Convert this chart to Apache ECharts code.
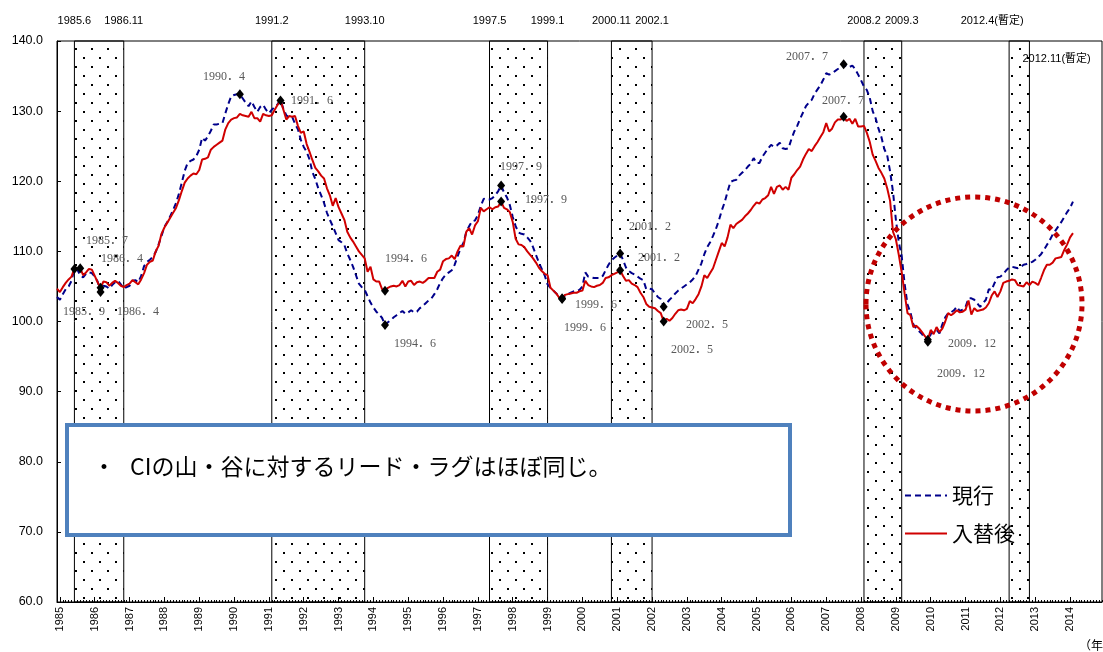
<!DOCTYPE html>
<html><head><meta charset="utf-8">
<script src="https://cdn.jsdelivr.net/npm/echarts@6/dist/echarts.min.js"></script>
<style>html,body{margin:0;padding:0;background:#fff}#c{width:1103px;height:652px}</style>
</head><body><div id="c"></div>
<script>
// ---- categories: monthly, 1984.12 .. 2014.12 ----
const months = [];
for (let i = 0; i < 361; i++) { const t = 11 + i; months.push((1984 + Math.floor(t / 12)) + '.' + (t % 12 + 1)); }

const seriesNames = ['現行', '入替後'];

// 現行 (monthly from 1984.12)
const genkou = [
103.5,103.1,103.9,104.6,105.0,105.8,107.5,107.4,106.6,106.3,106.8,
107.0,106.9,106.4,105.7,104.2,105.1,105.0,104.7,105.2,105.6,
105.8,105.3,104.7,104.9,105.1,105.8,105.9,105.6,106.5,107.9,
108.5,108.8,109.2,109.9,111.0,112.2,113.5,114.2,115.0,115.9,
116.9,118.2,119.8,121.5,122.6,122.9,123.1,123.6,124.5,126.2,
125.8,126.4,127.2,128.1,128.1,128.2,128.3,129.7,131.0,132.1,
132.3,132.4,132.4,131.8,131.2,130.7,131.4,130.6,129.9,130.6,
130.9,130.2,129.7,130.2,130.6,131.0,131.6,130.3,129.4,129.1,
129.2,128.2,127.4,125.9,124.9,124.2,123.1,121.3,120.3,119.0,
118.0,116.9,115.5,114.5,113.6,112.6,111.6,111.3,110.9,109.7,
108.8,107.8,106.6,105.4,104.9,104.5,103.6,102.7,102.0,101.4,
101.0,100.5,99.5,99.9,100.2,100.6,100.9,101.2,101.5,101.1,
101.3,101.6,101.3,101.4,101.9,102.2,102.6,103.0,103.3,103.9,
104.6,105.5,106.2,106.7,107.0,107.3,108.1,109.3,110.4,111.2,
112.8,113.6,114.3,114.4,115.2,116.5,117.5,117.4,117.4,117.6,
118.0,118.6,119.4,118.4,117.7,116.6,114.9,113.6,112.7,112.5,
112.4,112.0,111.5,110.6,109.5,108.4,107.5,106.6,105.3,104.8,
104.4,104.0,103.5,103.3,103.7,103.9,104.1,104.3,104.4,104.5,
105.0,107.0,106.4,106.3,106.2,106.2,106.2,106.5,107.3,108.1,
108.7,109.1,109.4,109.7,108.8,107.7,107.2,106.9,106.7,106.4,
106.1,105.9,104.6,104.7,104.6,104.0,103.5,103.2,102.1,102.6,
103.1,103.5,104.0,104.4,104.7,105.0,105.3,105.6,106.0,106.5,
107.4,108.3,109.6,110.6,111.3,112.2,113.2,114.4,115.8,117.0,
118.5,119.9,120.1,120.2,120.8,121.2,121.6,122.1,122.5,123.3,
122.6,122.6,123.5,124.1,124.7,125.2,124.9,125.1,125.5,124.7,
124.6,124.7,126.0,127.1,127.9,128.9,129.8,130.7,131.2,131.6,
132.5,133.1,133.7,134.5,135.4,135.2,135.4,135.7,136.0,136.3,
136.7,136.3,136.3,136.5,136.0,135.2,134.4,133.5,133.0,131.9,
130.0,129.0,127.5,126.3,124.6,123.7,121.4,118.5,114.5,111.3,
109.3,105.4,102.4,101.3,99.6,99.0,98.6,98.2,97.6,97.1,
98.2,98.6,98.8,98.3,99.6,100.6,101.2,101.3,101.6,102.1,
101.5,101.7,102.1,103.3,103.3,103.1,102.6,102.1,102.6,103.1,
104.6,104.5,105.5,106.3,106.4,106.8,107.3,107.7,107.8,107.7,
107.6,107.8,108.1,108.2,108.4,108.5,108.8,109.2,109.6,110.2,
110.9,111.6,112.4,113.0,113.6,114.2,114.9,115.6,116.2,117.1
];

// 入替後 (monthly from 1984.12)
const irekae = [
104.7,104.2,104.9,105.5,106.0,106.4,107.6,107.6,107.6,106.6,107.0,
107.5,107.4,106.5,105.6,104.8,105.7,105.6,105.1,105.5,105.8,
105.5,105.1,104.9,105.2,105.4,105.9,105.6,105.3,106.0,106.9,
108.1,108.5,108.7,110.0,110.8,112.5,113.4,114.1,114.8,115.5,
116.2,117.3,118.6,119.8,120.4,120.8,121.1,121.0,121.6,123.1,
123.2,123.4,124.5,124.9,125.2,125.5,125.8,127.4,128.3,128.8,
129.0,129.1,129.6,129.4,129.3,129.2,129.9,129.0,129.0,128.5,
129.6,129.4,129.3,129.4,130.2,130.9,131.5,130.2,128.8,129.3,
129.2,129.3,127.9,126.9,127.1,125.3,124.2,123.0,121.9,121.4,
120.8,120.4,119.0,118.0,116.5,117.6,116.3,115.4,114.5,112.8,
112.0,111.4,110.7,110.0,109.5,109.0,107.1,107.8,106.0,105.7,
105.7,104.6,104.4,104.8,105.0,105.1,105.0,105.2,105.8,105.0,
105.7,105.8,105.2,105.6,105.7,105.5,105.8,106.2,106.2,106.2,
107.1,107.4,108.6,108.9,109.0,109.4,108.9,110.0,110.8,110.7,
112.8,113.3,112.4,113.7,114.3,116.2,115.7,116.0,116.3,116.0,
116.3,116.4,117.1,116.2,116.0,115.6,114.2,111.8,111.0,110.9,
110.6,110.0,109.5,109.0,108.4,107.7,107.2,106.8,106.6,104.8,
104.4,104.0,103.4,103.2,103.8,103.9,104.0,104.1,104.1,104.3,
104.4,105.8,105.2,105.0,104.9,105.1,105.2,105.5,106.2,106.3,
106.6,106.8,107.0,107.3,106.5,105.8,105.9,105.4,105.2,104.9,
104.1,103.5,102.5,102.1,102.0,101.9,101.5,101.2,100.0,100.4,
100.1,100.5,101.1,101.6,101.7,101.6,101.8,102.9,102.6,103.2,
103.9,105.0,106.6,106.2,106.9,107.6,108.8,110.0,111.2,110.7,
112.0,113.8,113.3,113.9,114.2,114.5,115.0,115.4,115.9,116.5,
117.0,116.8,117.4,117.6,118.0,119.2,118.2,119.2,119.4,118.8,
119.2,118.8,120.5,121.0,121.6,122.1,123.1,123.9,124.6,124.3,
125.0,125.6,126.3,127.0,128.3,127.1,127.5,128.4,128.8,128.8,
129.2,128.6,128.9,128.2,128.9,127.8,127.8,127.9,126.9,125.6,
123.8,122.9,121.9,121.2,120.4,119.0,117.2,112.8,111.7,109.5,
107.0,104.0,101.2,100.9,99.2,99.4,99.0,98.5,97.9,97.4,
98.8,98.2,99.2,98.5,99.0,100.0,101.2,100.9,101.2,101.6,
101.3,101.4,101.7,103.0,101.0,101.9,101.5,101.6,101.7,102.0,
102.6,103.7,104.3,103.5,104.3,105.5,105.7,105.8,106.0,105.9,
105.2,105.1,105.0,105.6,105.2,105.7,105.5,105.2,106.2,107.3,
108.1,108.1,108.4,109.0,109.1,109.2,110.2,111.0,112.0,112.6
];

// peak / trough markers (months)
const genkouTurns = ['1985.6','1986.3','1990.3','1994.5','1997.9','1999.6','2001.2','2002.5','2007.7','2009.12'];
const irekaeTurns = ['1985.8','1986.3','1991.5','1994.5','1997.9','1999.6','2001.2','2002.5','2007.7','2009.12'];

// recession periods (shaded)
const recessions = [['1985.6','1986.11'],['1991.2','1993.10'],['1997.5','1999.1'],['2000.11','2002.1'],['2008.2','2009.3'],['2012.4','2012.11']];
const provisional = ['2012.4','2012.11'];

// turning-point text annotations: [text, centerX, centerY]
const turnLabels = [
 ['1985．7',107,241],['1986．4',122,259],['1985．9',84,312],['1986．4',138,312],
 ['1990．4',224,77],['1991．6',312,101],['1994．6',406,259],['1994．6',415,344],
 ['1997．9',521,167],['1997．9',546,200],['1999．6',596,305],['1999．6',585,328],
 ['2001．2',650,227],['2001．2',659,258],['2002．5',707,325],['2002．5',692,350],
 ['2007．7',807,57],['2007．7',843,101],['2009．12',972,344],['2009．12',961,374]
];

const yMin = 60, yMax = 140, yStep = 10;

// dotted pattern for recession shading
const pc = document.createElement('canvas'); pc.width = 16; pc.height = 18;
const pctx = pc.getContext('2d'); pctx.fillStyle = '#000';
pctx.fillRect(3, 3, 2, 2); pctx.fillRect(11, 12, 2, 2);

const isJan = (i, v) => String(v).split('.')[1] === '1';

function marks(names, vals) {
  return names.map(n => ({ coord: [n, vals[months.indexOf(n)]] }));
}

const chart = echarts.init(document.getElementById('c'));
const option = {
  animation: false,
  backgroundColor: '#fff',
  grid: { left: 57, right: 1, top: 41, bottom: 50, show: true, borderColor: '#000', borderWidth: 1, backgroundColor: 'transparent', outerBoundsMode: 'none' },
  legend: {
    left: 899, top: 480, orient: 'vertical', itemWidth: 42, itemHeight: 14, itemGap: 17,
    selectedMode: false, data: seriesNames,
    itemStyle: { opacity: 0 },
    textStyle: { fontSize: 21, color: '#000', fontFamily: 'Noto Sans CJK JP' }
  },
  xAxis: [{
    type: 'category', data: months, boundaryGap: false,
    axisLine: { lineStyle: { color: '#000', width: 1 } },
    axisTick: { show: true, inside: true, length: 5, interval: isJan, lineStyle: { color: '#000' } },
    axisLabel: { interval: isJan, rotate: 90, margin: 5, fontSize: 11, color: '#000', fontFamily: 'Liberation Sans',
      formatter: v => v.split('.')[0] },
    splitLine: { show: false }
  }, {
    type: 'category', data: months, boundaryGap: false, position: 'bottom',
    axisLine: { show: false },
    axisTick: { show: true, inside: true, length: 2, interval: 0, lineStyle: { color: '#000' } },
    axisLabel: { show: false }, splitLine: { show: false }
  }],
  yAxis: {
    type: 'value', min: yMin, max: yMax, interval: yStep,
    axisLine: { show: true, lineStyle: { color: '#000' } },
    axisTick: { show: true, inside: true, length: 4, lineStyle: { color: '#000' } },
    axisLabel: { formatter: v => v.toFixed(1), fontSize: 12.5, color: '#000', margin: 14, fontFamily: 'Liberation Sans' },
    splitLine: { show: false }
  },
  series: [
    {
      name: 'recession', type: 'line', data: [], z: 1, silent: true,
      markArea: {
        silent: true,
        itemStyle: { color: { image: pc, repeat: 'repeat' }, borderColor: '#000', borderWidth: 1 },
        data: recessions.map(r => [{ xAxis: r[0] }, { xAxis: r[1] }])
      }
    },
    {
      name: seriesNames[0], type: 'line', data: genkou, symbol: 'none', z: 3,
      lineStyle: { color: '#00008b', width: 2, type: [6, 4] }, itemStyle: { color: '#00008b' },
      markPoint: { symbol: 'diamond', symbolSize: [8, 10], itemStyle: { color: '#000', opacity: 1 }, label: { show: false }, data: marks(genkouTurns, genkou), z: 5 }
    },
    {
      name: seriesNames[1], type: 'line', data: irekae, symbol: 'none', z: 4,
      lineStyle: { color: '#d00000', width: 2 }, itemStyle: { color: '#d00000' },
      markPoint: { symbol: 'diamond', symbolSize: [8, 10], itemStyle: { color: '#000', opacity: 1 }, label: { show: false }, data: marks(irekaeTurns, irekae), z: 5 }
    }
  ]
};
chart.setOption(option);

// graphics: labels tied to recession boundaries + annotations
const g = [];
recessions.flat().forEach(d => {
  const x = chart.convertToPixel({ xAxisIndex: 0 }, d);
  if (d === '2012.11') {
    g.push({ type: 'text', x: x - 7, y: 59, z: 60, style: { text: d + '(暫定)', fontSize: 11, fontFamily: 'Liberation Sans, Noto Sans CJK JP', fill: '#000', align: 'left', verticalAlign: 'middle' } });
  } else {
    const txt = provisional.includes(d) ? d + '(暫定)' : d;
    const dx = provisional.includes(d) ? -17 : 0;
    g.push({ type: 'text', x: x + dx, y: 21, style: { text: txt, fontSize: 11, fontFamily: 'Liberation Sans, Noto Sans CJK JP', fill: '#000', align: 'center', verticalAlign: 'middle' } });
  }
});
turnLabels.forEach(t => g.push({ type: 'text', x: t[1], y: t[2], z: 40,
  style: { text: t[0], fontSize: 12, fontFamily: 'Liberation Serif, Noto Sans CJK JP', fill: '#595959', align: 'center', verticalAlign: 'middle' } }));
g.push({ type: 'ellipse', z: 50, shape: { cx: 974, cy: 304, rx: 108, ry: 107 },
  style: { fill: null, stroke: '#c00000', lineWidth: 5, lineDash: [5, 5] } });
g.push({ type: 'rect', z: 100, shape: { x: 67, y: 425, width: 723, height: 110 },
  style: { fill: '#fff', stroke: '#4f81bd', lineWidth: 4 } });
g.push({ type: 'text', z: 101, x: 104, y: 466, style: { text: '・', fontSize: 23, fontFamily: 'Noto Sans CJK JP', fill: '#000', align: 'center', verticalAlign: 'middle' } });
g.push({ type: 'text', z: 101, x: 130, y: 466, style: { text: 'CIの山・谷に対するリード・ラグはほぼ同じ。', fontSize: 23, fontFamily: 'Noto Sans CJK JP', fill: '#000', align: 'left', verticalAlign: 'middle' } });
g.push({ type: 'text', x: 1079, y: 645, style: { text: '（年）', fontSize: 12, fontFamily: 'Noto Sans CJK JP', fill: '#000', align: 'left', verticalAlign: 'middle' } });
chart.setOption({ graphic: g });
</script>
</body></html>
